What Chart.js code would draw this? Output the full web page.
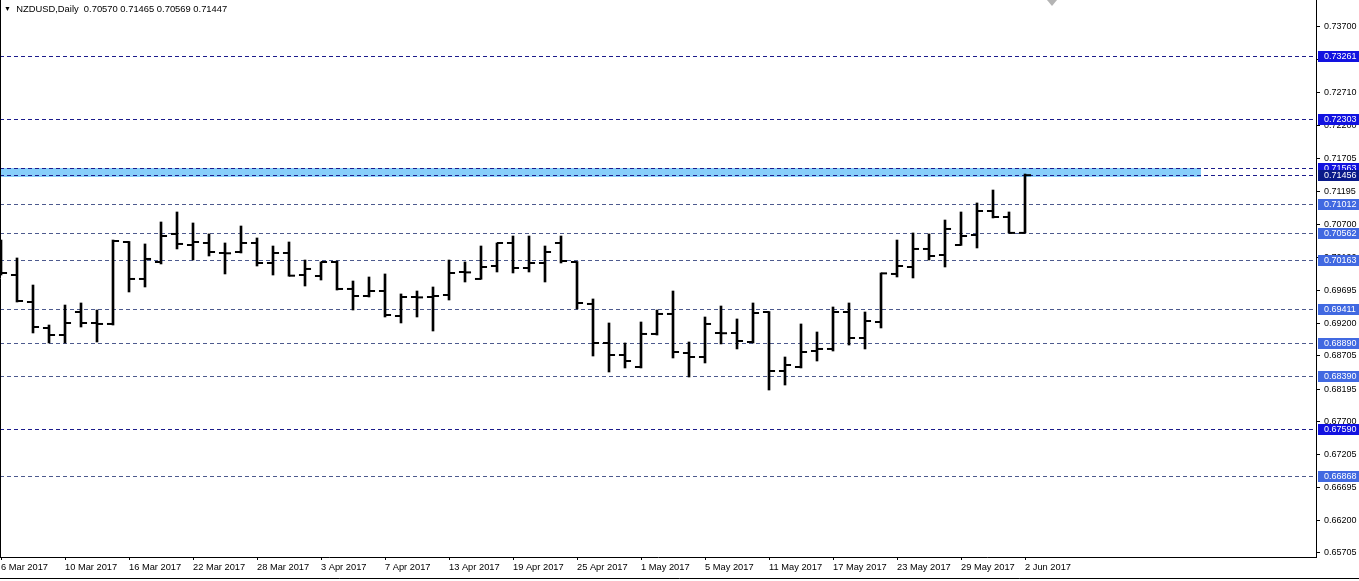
<!DOCTYPE html>
<html lang="en">
<head>
<meta charset="UTF-8">
<title>NZDUSD Daily</title>
<style>
    html, body { margin: 0; padding: 0; background: #fff; }
    #wrap { position: relative; width: 1359px; height: 581px; overflow: hidden; }
    #chart { display: block; }
    #title {
        position: absolute; left: 4px; top: 3px;
        font: 9.4px 'Liberation Sans', Arial, sans-serif;
        line-height: 12px; color: #000; white-space: pre;
    }
    #title .arrow { font-size: 7px; vertical-align: 1px; }
</style>
</head>
<body>
<div id="wrap">
    <canvas id="chart" width="1359" height="581"></canvas>
    <div id="title"><span class="arrow">▼</span>  NZDUSD,Daily  0.70570 0.71465 0.70569 0.71447</div>
</div>

<script src="https://cdn.jsdelivr.net/npm/chart.js"></script>
<script>
// daily bars, 6 Mar 2017 .. 2 Jun 2017 (one per weekday)
const opens = [0.70432, 0.69930, 0.69520, 0.69125, 0.69018, 0.69368, 0.69201, 0.69186, 0.70432, 0.69870,
    0.70128, 0.70554, 0.70386, 0.70417, 0.70265, 0.70280, 0.70417, 0.70113, 0.70265, 0.69930,
    0.69915, 0.70128, 0.69718, 0.69611, 0.69687, 0.69307, 0.69596, 0.69596, 0.69626, 0.69976,
    0.69870, 0.70067, 0.70417, 0.70037, 0.70113, 0.70417, 0.70128, 0.69490, 0.68897, 0.68714,
    0.68532, 0.69034, 0.69338, 0.68745, 0.68684, 0.69049, 0.69049, 0.68912, 0.69368, 0.68471,
    0.68532, 0.68775, 0.68806, 0.69368, 0.68973, 0.69216, 0.69946, 0.70052, 0.70326, 0.70234,
    0.70386, 0.70538, 0.70903, 0.70812, 0.70570];
const highs = [0.70462, 0.70189, 0.69778, 0.69170, 0.69474, 0.69505, 0.69398, 0.70462, 0.70440, 0.70402,
    0.70736, 0.70888, 0.70721, 0.70554, 0.70417, 0.70675, 0.70493, 0.70371, 0.70432, 0.70158,
    0.70128, 0.70143, 0.69839, 0.69900, 0.69946, 0.69642, 0.69687, 0.69748, 0.70158, 0.70128,
    0.70371, 0.70417, 0.70523, 0.70523, 0.70371, 0.70523, 0.70135, 0.69566, 0.69201, 0.68897,
    0.69216, 0.69398, 0.69687, 0.68912, 0.69292, 0.69459, 0.69262, 0.69505, 0.69375, 0.68684,
    0.69186, 0.69064, 0.69444, 0.69505, 0.69368, 0.69961, 0.70462, 0.70569, 0.70554, 0.70766,
    0.70888, 0.71025, 0.71222, 0.70888, 0.71465];
const lows = [0.69930, 0.69520, 0.69049, 0.68897, 0.68897, 0.69140, 0.68912, 0.69170, 0.69672, 0.69748,
    0.70098, 0.70326, 0.70158, 0.70219, 0.69946, 0.70265, 0.70067, 0.69930, 0.69912, 0.69763,
    0.69854, 0.69702, 0.69398, 0.69596, 0.69292, 0.69201, 0.69292, 0.69079, 0.69550, 0.69824,
    0.69865, 0.69976, 0.69961, 0.69976, 0.69824, 0.70113, 0.69414, 0.68699, 0.68456, 0.68517,
    0.68517, 0.69018, 0.68669, 0.68380, 0.68593, 0.68882, 0.68806, 0.68897, 0.68182, 0.68258,
    0.68517, 0.68623, 0.68775, 0.68866, 0.68806, 0.69125, 0.69900, 0.69885, 0.70158, 0.70052,
    0.70380, 0.70341, 0.70797, 0.70569, 0.70569];
const closes = [0.69961, 0.69535, 0.69140, 0.69018, 0.69201, 0.69201, 0.69186, 0.70447, 0.69870, 0.70174,
    0.70523, 0.70402, 0.70432, 0.70280, 0.70260, 0.70417, 0.70113, 0.70265, 0.69920, 0.70022,
    0.70128, 0.69718, 0.69611, 0.69687, 0.69322, 0.69596, 0.69590, 0.69611, 0.69961, 0.69970,
    0.70052, 0.70417, 0.70037, 0.70113, 0.70280, 0.70143, 0.69505, 0.68897, 0.68714, 0.68623,
    0.69034, 0.69338, 0.68760, 0.68684, 0.69186, 0.69045, 0.68927, 0.69353, 0.68471, 0.68562,
    0.68760, 0.68806, 0.69368, 0.68973, 0.69231, 0.69955, 0.70067, 0.70326, 0.70219, 0.70630,
    0.70523, 0.70903, 0.70812, 0.70570, 0.71447];

// a date label every 4 bars
const dateLabels = ['6 Mar 2017', '10 Mar 2017', '16 Mar 2017', '22 Mar 2017', '28 Mar 2017', '3 Apr 2017',
    '7 Apr 2017', '13 Apr 2017', '19 Apr 2017', '25 Apr 2017', '1 May 2017', '5 May 2017', '11 May 2017',
    '17 May 2017', '23 May 2017', '29 May 2017', '2 Jun 2017'];
const priceTicks = [0.73700, 0.73205, 0.72710, 0.72200, 0.71705, 0.71195, 0.70700, 0.70190, 0.69695,
    0.69200, 0.68705, 0.68195, 0.67700, 0.67205, 0.66695, 0.66200, 0.65705];

// horizontal levels and the shaded zone
const levelValues = [0.73261, 0.72303, 0.71563, 0.71456, 0.71012, 0.70562, 0.70163, 0.69411, 0.68890, 0.68390, 0.67590, 0.66868];
const strongLevels = [0.73261, 0.72303, 0.71563, 0.67590];
const navyLevels = [0.71456];
const zoneLow = 0.71456, zoneHigh = 0.71563, zoneEndBar = 75;

const FONT = "'Liberation Sans', Arial, sans-serif";
const tickOff = 0.19; // open/close tick offset, in bars

const barData = highs.map((h, i) => ({ x: i, y: [lows[i], h] }));
const openData = opens.map((v, i) => ({ x: i - tickOff, y: v }));
const closeData = closes.map((v, i) => ({ x: i + tickOff, y: v }));

function lineColor(v) {
    if (navyLevels.includes(v) || strongLevels.includes(v)) return '#1c1c8c';
    return '#4d5a8e';
}
function boxColor(v) {
    if (navyLevels.includes(v)) return '#0a1a8a';
    if (strongLevels.includes(v)) return '#1212e0';
    return '#4169e1';
}

const levelsPlugin = {
    id: 'levels',
    beforeDatasetsDraw(chart) {
        const { ctx, chartArea: a, scales: { x, y } } = chart;
        ctx.save();
        const yt = y.getPixelForValue(zoneHigh), yb = y.getPixelForValue(zoneLow);
        ctx.fillStyle = '#87cefa';
        ctx.fillRect(a.left, Math.round(yt), x.getPixelForValue(zoneEndBar) - a.left, Math.round(yb - yt) + 2);
        ctx.lineWidth = 1;
        ctx.setLineDash([4, 3]);
        levelValues.forEach(v => {
            const py = Math.round(y.getPixelForValue(v)) + 0.5;
            ctx.strokeStyle = lineColor(v);
            ctx.beginPath();
            ctx.moveTo(a.left, py);
            ctx.lineTo(a.right, py);
            ctx.stroke();
        });
        ctx.restore();
    },
    afterDraw(chart) {
        const { ctx, chartArea: a, scales: { y }, width, height } = chart;
        ctx.save();
        // price boxes on the axis
        ctx.font = '9px ' + FONT;
        ctx.textBaseline = 'middle';
        levelValues.forEach(v => {
            const py = Math.round(y.getPixelForValue(v));
            ctx.fillStyle = boxColor(v);
            ctx.fillRect(a.right + 2, py - 5, width - a.right - 2, 11);
            ctx.fillStyle = '#fff';
            ctx.fillText(v.toFixed(5), a.right + 8, py + 0.5);
        });
        // frame
        ctx.strokeStyle = '#000';
        ctx.lineWidth = 1;
        ctx.beginPath();
        ctx.moveTo(0.5, 0);
        ctx.lineTo(0.5, a.bottom);
        ctx.moveTo(0, height - 2.5);
        ctx.lineTo(width, height - 2.5);
        ctx.stroke();
        // shift marker
        ctx.fillStyle = '#b4b4b4';
        ctx.beginPath();
        ctx.moveTo(1047, 0);
        ctx.lineTo(1057, 0);
        ctx.lineTo(1052, 6);
        ctx.closePath();
        ctx.fill();
        ctx.restore();
    }
};

new Chart(document.getElementById('chart'), {
    type: 'bar',
    data: {
        datasets: [
            { type: 'bar', data: barData, backgroundColor: '#000', borderWidth: 0, barThickness: 2 },
            { type: 'scatter', data: openData, pointStyle: 'line', radius: 3, borderWidth: 2, borderColor: '#000' },
            { type: 'scatter', data: closeData, pointStyle: 'line', radius: 3, borderWidth: 2, borderColor: '#000' }
        ]
    },
    options: {
        responsive: false,
        animation: false,
        events: [],
        layout: { padding: 0, autoPadding: false },
        plugins: { legend: { display: false }, tooltip: { enabled: false } },
        scales: {
            x: {
                type: 'linear',
                offset: false,
                min: -0.0625,
                max: 82.1875,
                grid: { drawOnChartArea: false, offset: false, tickLength: 3, color: '#000' },
                border: { color: '#000' },
                ticks: {
                    autoSkip: false, maxRotation: 0, align: 'start', padding: 2,
                    color: '#000', font: { family: FONT, size: 9.3 },
                    callback: (v, i) => dateLabels[i]
                },
                afterBuildTicks: s => { s.ticks = dateLabels.map((_, k) => ({ value: k * 4 })); },
                afterFit: s => { s.height = 24; s.paddingLeft = 0; s.paddingRight = 0; }
            },
            y: {
                type: 'linear',
                position: 'right',
                min: 0.65644,
                max: 0.74110,
                grid: { drawOnChartArea: false, tickLength: 4, color: '#000' },
                border: { color: '#000' },
                ticks: {
                    padding: 4, color: '#000', font: { family: FONT, size: 9 },
                    callback: v => v.toFixed(5)
                },
                afterBuildTicks: s => { s.ticks = priceTicks.map(v => ({ value: v })); },
                afterFit: s => { s.width = 43; s.paddingTop = 0; s.paddingBottom = 0; }
            }
        }
    },
    plugins: [levelsPlugin]
});
</script>
</body>
</html>
